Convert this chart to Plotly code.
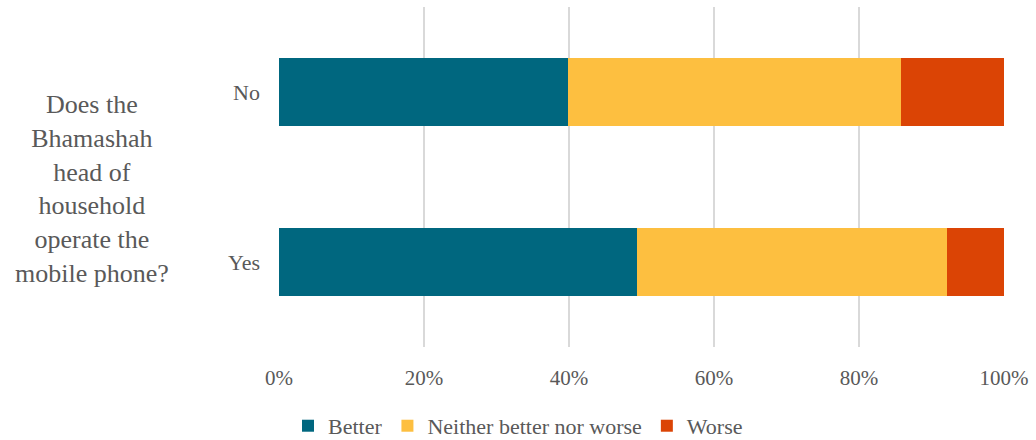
import plotly.graph_objects as go

# Survey responses by whether the head of household operates the phone
categories = ["Yes", "No"]
better = [49.4, 39.8]
neither = [42.7, 46.0]
worse = [7.9, 14.2]

series_names = ["Better", "Neither better nor worse", "Worse"]
series_values = [better, neither, worse]
series_colors = ["#00677F", "#FDBF40", "#DB4405"]

x_tickvals = [0, 20, 40, 60, 80, 100]
x_ticktext = ["0%", "20%", "40%", "60%", "80%", "100%"]

axis_title = "Does the<br>Bhamashah<br>head of<br>household<br>operate the<br>mobile phone?"

FONT = "Liberation Serif, Times New Roman, serif"
TEXT = "#595959"

fig = go.Figure()
for name, vals, color in zip(series_names, series_values, series_colors):
    fig.add_trace(go.Bar(
        y=categories, x=vals, name=name, orientation="h",
        marker=dict(color=color, line=dict(width=0)),
        hoverinfo="name+x",
    ))

fig.update_layout(
    barmode="stack",
    bargap=0.6,
    width=1036, height=440,
    margin=dict(l=279, r=32, t=7, b=93, autoexpand=False),
    paper_bgcolor="white", plot_bgcolor="white",
    font=dict(family=FONT, color=TEXT, size=20),
    legend=dict(
        orientation="h", xref="container", yref="container",
        x=0.5, xanchor="center", y=0.032, yanchor="middle",
        font=dict(family=FONT, size=22, color=TEXT),
        itemwidth=30, traceorder="normal",
    ),
    xaxis=dict(
        range=[0, 100], tickvals=x_tickvals, ticktext=x_ticktext,
        showgrid=True, gridcolor="#D9D9D9", gridwidth=2,
        zeroline=False, showline=False, ticks="",
        ticklabelstandoff=16,
        tickfont=dict(family=FONT, size=21, color=TEXT),
    ),
    yaxis=dict(
        categoryorder="array", categoryarray=categories,
        showgrid=False, zeroline=False, showline=False, ticks="",
        ticklabelstandoff=18,
        tickfont=dict(family=FONT, size=22, color=TEXT),
    ),
    annotations=[dict(
        text=axis_title, xref="paper", yref="paper",
        x=-0.258, y=0.466, xanchor="center", yanchor="middle",
        showarrow=False, align="center",
        font=dict(family=FONT, size=26, color=TEXT),
    )],
)

fig.write_html("out.html")
